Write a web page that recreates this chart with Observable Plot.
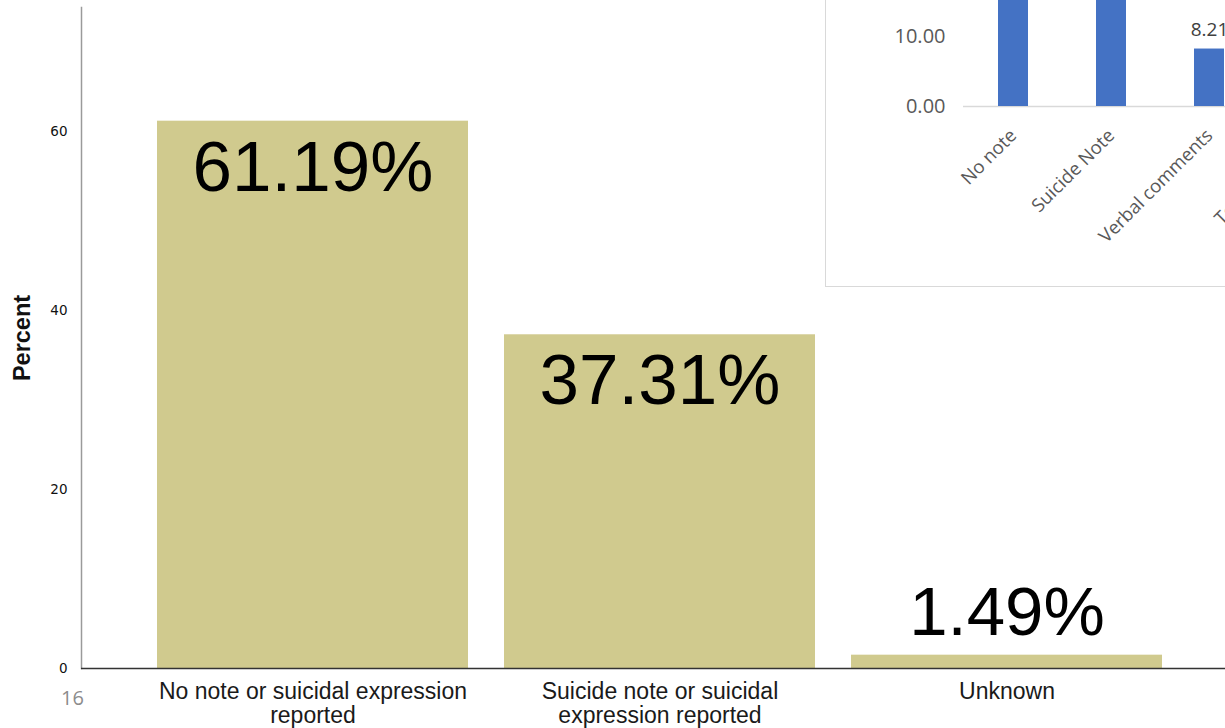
<!DOCTYPE html>
<html>
<head>
<meta charset="utf-8">
<script src="https://cdn.jsdelivr.net/npm/d3@7"></script>
<script src="https://cdn.jsdelivr.net/npm/@observablehq/plot@0.6"></script>
<style>
  html, body { margin: 0; padding: 0; background: #fff; width: 1225px; height: 728px; overflow: hidden; position: relative; }
  #main { position: absolute; left: 0; top: 0; }
  #inset { position: absolute; left: 825px; top: -400px; width: 580px; height: 687px; box-sizing: border-box; border: 1px solid #d9d9d9; background: #fff; overflow: hidden; }
  #slide { position: absolute; left: 61px; top: 684px; font: 20px "Open Sans", sans-serif; color: #8c8c8c; }
</style>
</head>
<body>
<div id="main"></div>
<div id="inset"></div>
<div id="slide">16</div>
<script>
// Main chart data
const categories = ["No note or suicidal expression reported", "Suicide note or suicidal expression reported", "Unknown"];
const tickLabels = ["No note or suicidal expression\nreported", "Suicide note or suicidal\nexpression reported", "Unknown"];
const percents = [61.19, 37.31, 1.49];
const yTicks = [0, 20, 40, 60];

// Inset chart data
const insetCategories = ["No note", "Suicide Note", "Verbal comments", "Text messages"];
const insetValues = [61.19, 29.10, 8.21, 1.49];
const insetTicks = [0, 10, 20, 30, 40, 50, 60, 70];

const mainData = categories.map((c, i) => ({cat: c, value: percents[i], label: percents[i].toFixed(2) + "%"}));
const labelMap = new Map(categories.map((c, i) => [c, tickLabels[i]]));

const main = Plot.plot({
  width: 1225,
  height: 728,
  marginTop: 7,
  marginBottom: 60,
  marginLeft: 81,
  marginRight: 0,
  style: {background: "transparent"},
  x: {domain: categories, paddingInner: 0.104, paddingOuter: 0.2, align: 0.55},
  y: {domain: [0, 73.9]},
  marks: [
    Plot.barY(mainData, {x: "cat", y: "value", fill: "#d0ca8e"}),
    Plot.frame({anchor: "left", stroke: "#9a9a9a", strokeWidth: 1.5}),
    Plot.ruleY([0], {stroke: "#333", strokeWidth: 1.3}),
    Plot.axisY({ticks: yTicks, tickSize: 0, tickPadding: 14, fontSize: 13.5, fontFamily: "DejaVu Sans", fill: "#111",
      label: null}),
    Plot.text(["Percent"], {frameAnchor: "left", textAnchor: "middle", dx: -59, rotate: -90, fontSize: 23.5, fontWeight: "bold", fontFamily: "Liberation Sans, Arial", fill: "#111"}),
    Plot.axisX({tickSize: 0, tickPadding: 14, fontSize: 23, fontFamily: "Liberation Sans, Arial", fill: "#1a1a1a",
      tickFormat: d => labelMap.get(d), lineHeight: 1.03, label: null}),
    Plot.text(mainData.filter(d => d.value > 10), {x: "cat", y: "value", text: "label", lineAnchor: "top", dy: 19,
      fontSize: 71, fontFamily: "Liberation Sans, Arial", fill: "#000"}),
    Plot.text(mainData.filter(d => d.value <= 10), {x: "cat", y: "value", text: "label", lineAnchor: "bottom", dy: -20,
      fontSize: 69, fontFamily: "Liberation Sans, Arial", fill: "#000"})
  ]
});
document.getElementById("main").append(main);

const insetData = insetCategories.map((c, i) => ({cat: c, value: insetValues[i]}));
const inset = Plot.plot({
  width: 578,
  height: 685,
  marginTop: 15,
  marginBottom: 180,
  marginLeft: 137,
  marginRight: 47,
  style: {background: "transparent"},
  x: {domain: insetCategories, paddingInner: 0.69, paddingOuter: 0.345},
  y: {domain: [0, 70]},
  marks: [
    Plot.ruleY([0], {stroke: "#d9d9d9", strokeWidth: 1.5}),
    Plot.barY(insetData, {x: "cat", y: "value", fill: "#4472c4"}),
    Plot.axisY({ticks: insetTicks, tickSize: 0, tickPadding: 18, fontSize: 20, fontFamily: "Open Sans, Noto Sans", fill: "#595959",
      tickFormat: d => d.toFixed(2), label: null}),
    Plot.axisX({tickSize: 0, tickPadding: 26, tickRotate: -45, fontSize: 18.5, fontFamily: "Open Sans, Noto Sans", fill: "#595959", label: null}),
    Plot.text(insetData, {x: "cat", y: "value", text: d => d.value.toFixed(2), lineAnchor: "bottom", dy: -13,
      fontSize: 19, fontFamily: "Open Sans, Noto Sans", fill: "#404040"})
  ]
});
document.getElementById("inset").append(inset);
</script>
</body>
</html>
